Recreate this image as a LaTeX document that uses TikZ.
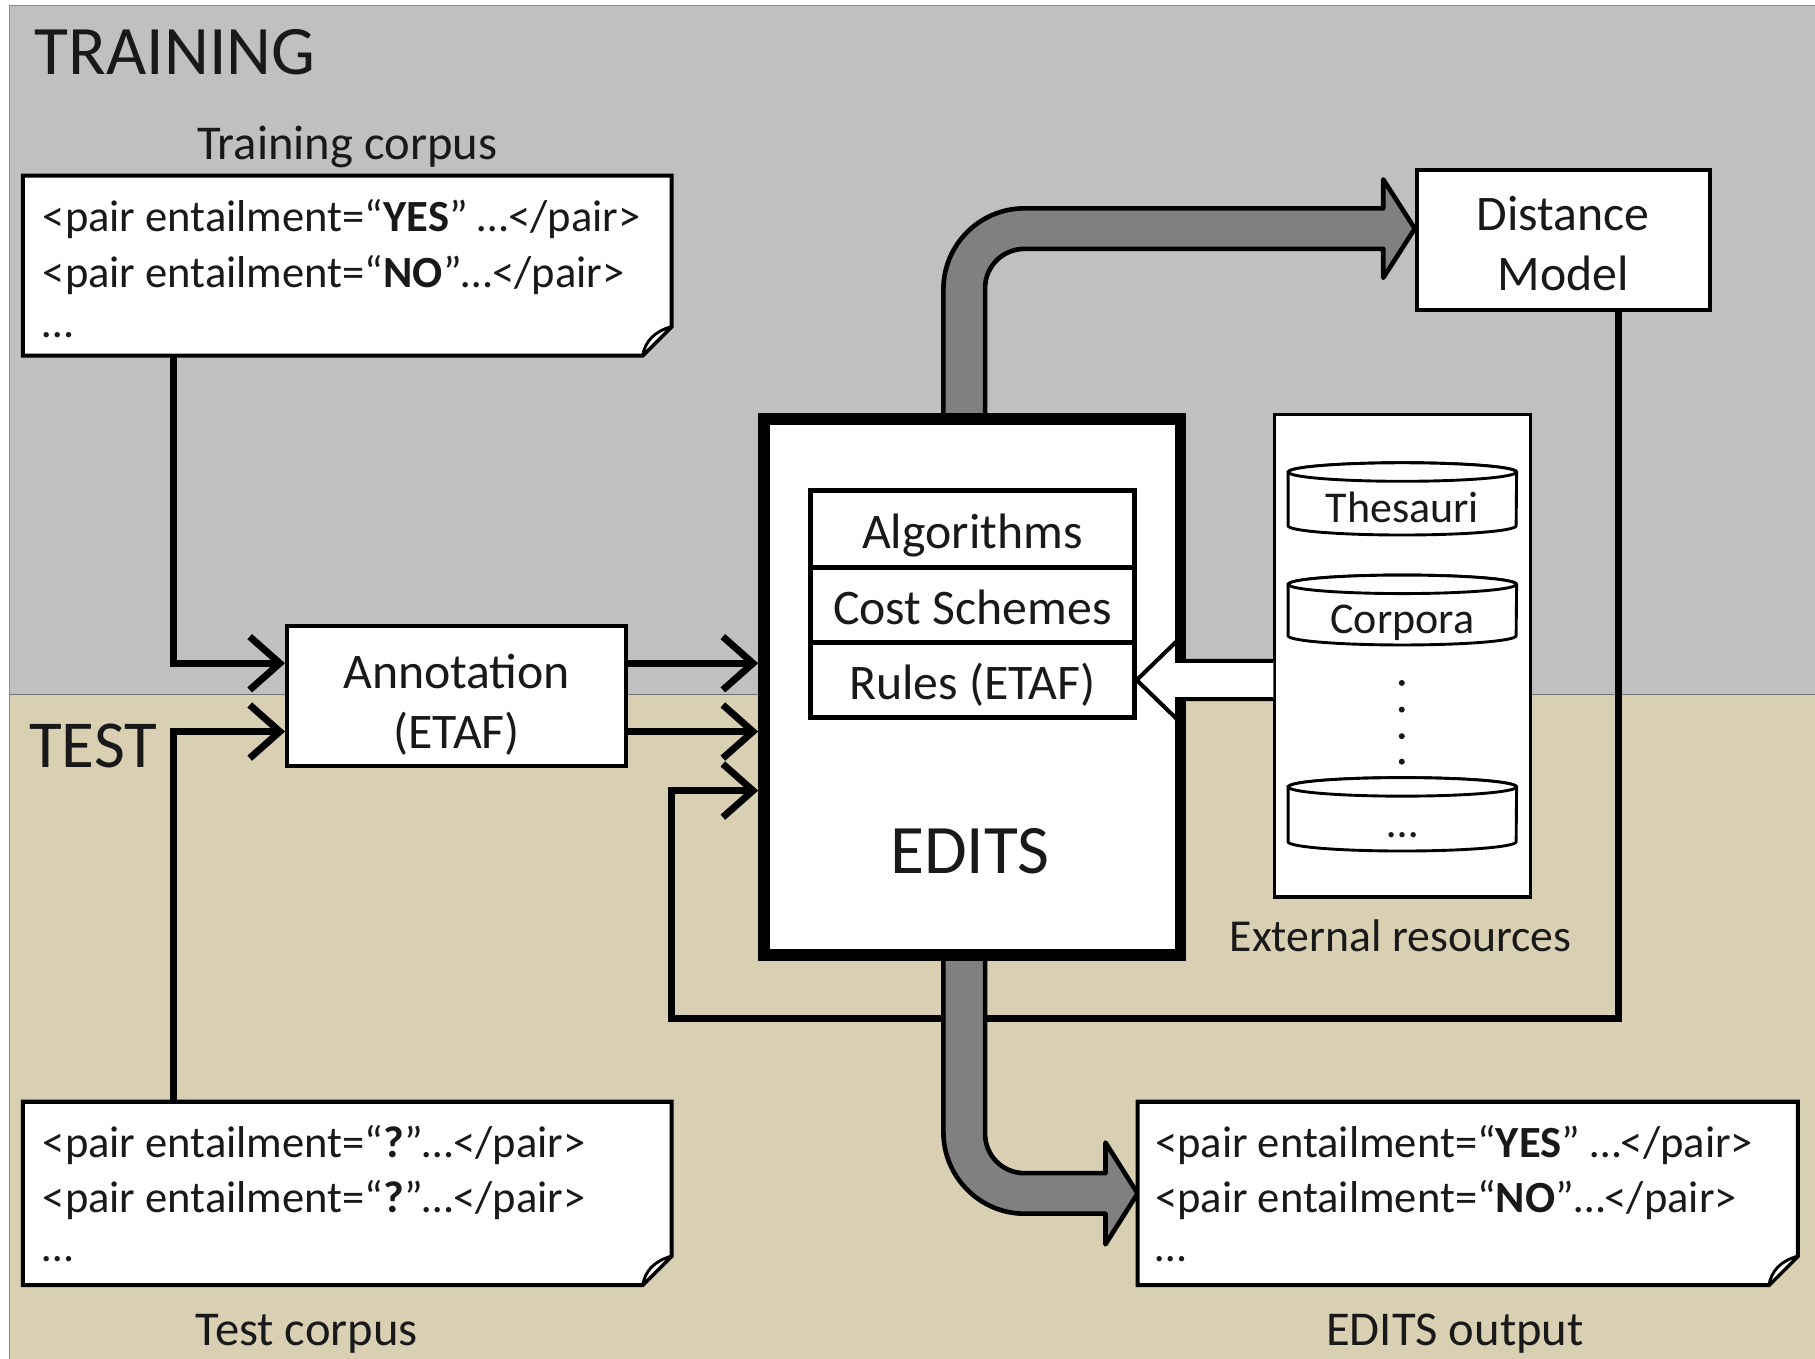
\documentclass[tikz,border=0pt]{standalone}
\usepackage{fontspec}
\setmainfont{Carlito}
\usetikzlibrary{calc,arrows.meta}
\pgfdeclarelayer{back}
\pgfdeclarelayer{mid}
\pgfsetlayers{back,mid,main}
\definecolor{panelgray}{RGB}{192,192,192}
\definecolor{paneltan}{RGB}{217,208,180}
\definecolor{arrowgray}{RGB}{128,128,128}
\definecolor{ink}{RGB}{25,25,25}
\begin{document}
\begin{tikzpicture}[x=1pt,y=-1pt,
  box/.style={draw=black,line width=3.5pt,fill=white,inner sep=0pt,align=center,
    font=\fontsize{43}{52}\selectfont,text=ink},
  onebox/.style={box,line width=4pt,minimum width=280,text height=34pt,text depth=0pt},
  docbox/.style={draw=none,inner sep=0pt},
  docline/.style={draw=black,line width=3.5pt,fill=white,line join=miter},
  doctext/.style={anchor=base west,inner sep=0pt,font=\fontsize{38.5}{46}\selectfont,text=ink},
  lbl/.style={anchor=base,inner sep=0pt,font=\fontsize{42}{50}\selectfont,text=ink},
  biglbl/.style={anchor=base west,inner sep=0pt,font=\fontsize{60}{72}\selectfont,text=ink},
  conn/.style={line width=6pt,draw=black,-{Straight Barb[length=26pt,width=46pt]}},
  fatarrow/.style={fill=arrowgray,draw=black,line width=4pt,line join=round},
  whitearrow/.style={fill=white,draw=black,line width=3.5pt,line join=miter},
  cyl/.style={draw=black,line width=2.5pt,fill=white},
  cyltext/.style={draw=none,inner sep=0pt,font=\fontsize{38}{46}\selectfont,text=ink,
    text height=40pt,text depth=0pt},
]
\useasboundingbox (0,0) rectangle (1568,1174);
% background panels
\begin{pgfonlayer}{back}
\fill[white] (0,0) rectangle (1568,1174);
\fill[panelgray] (8,5) rectangle (1568,600);
\fill[paneltan] (8,600) rectangle (1568,1174);
\draw[black!55,line width=1.2pt] (8,600) -- (1568,600);
\draw[black!45,line width=1pt] (8,1174) -- (8,5) -- (1568,5);
\end{pgfonlayer}

\node[biglbl] (training) at (30,64) {TRAINING};
\node[biglbl,font=\fontsize{58}{70}\selectfont] (testlbl) at (25,663) {TEST};

% document boxes
\node[docbox,minimum width=560,minimum height=155] (train) at (300,229.5) {};
\node[docbox,minimum width=560,minimum height=158] (test) at (300,1031) {};
\node[docbox,minimum width=570,minimum height=158] (out) at (1268,1031) {};
\foreach \d in {train,test,out}{
  \draw[docline] (\d.north west) -- (\d.north east) -- ($(\d.south east)+(0,-25)$)
    -- ($(\d.south east)+(-25,0)$) -- (\d.south west) -- cycle;
  \draw[line width=2.5pt,fill=white,line join=round] ($(\d.south east)+(0,-25)$)
    .. controls ($(\d.south east)+(-15,-21)$) and ($(\d.south east)+(-23,-12)$) .. ($(\d.south east)+(-25,0)$) -- cycle;
}
\node[doctext] (train1) at ($(train.north west)+(17,48)$) {<pair entailment=“\textbf{YES}” …</pair>};
\node[doctext] (train2) at ($(train.north west)+(17,97)$) {<pair entailment=“\textbf{NO}”…</pair>};
\node[doctext] (train3) at ($(train.north west)+(17,140)$) {…};
\node[doctext] (test1) at ($(test.north west)+(17,48)$) {<pair entailment=“\textbf{?}”…</pair>};
\node[doctext] (test2) at ($(test.north west)+(17,96)$) {<pair entailment=“\textbf{?}”…</pair>};
\node[doctext] (test3) at ($(test.north west)+(17,138)$) {…};
\node[doctext] (out1) at ($(out.north west)+(15,48)$) {<pair entailment=“\textbf{YES}” …</pair>};
\node[doctext] (out2) at ($(out.north west)+(15,96)$) {<pair entailment=“\textbf{NO}”…</pair>};
\node[doctext] (out3) at ($(out.north west)+(15,138)$) {…};

\node[lbl] (traincap) at (300,138) {Training corpus};
\node[lbl] (testcap) at (265,1162) {Test corpus};
\node[lbl] (outcap) at (1257,1162) {EDITS output};

% boxes
\node[box,minimum width=293,minimum height=121] (annot) at (394.5,601.5) {\rule{0pt}{44pt}Annotation\\(ETAF)};
\node[box,minimum width=253,minimum height=121] (dist) at (1350.5,207.5) {\rule{0pt}{36pt}Distance\\Model};
\node[draw=black,line width=10pt,fill=white,minimum width=360,minimum height=463,outer sep=5pt] (edits) at (840,593.5) {};
\node[anchor=base,inner sep=0pt,font=\fontsize{60}{72}\selectfont,text=ink] (editslbl) at (838,755) {EDITS};
\node[onebox,minimum height=66] (alg) at (840,457) {Algorithms};
\node[onebox,minimum height=65] (cost) at (840,522.5) {Cost Schemes};
\node[onebox,minimum height=65] (rules) at (840,587.5) {Rules (ETAF)};

% external resources
\begin{pgfonlayer}{mid}
\node[draw=black,line width=3pt,fill=white,minimum width=221,minimum height=417] (ext) at (1211.5,566.5) {};
\end{pgfonlayer}
\coordinate (w1) at ($(rules.east)+(35,-16.5)$);
\coordinate (w2) at ($(rules.east)+(35,-34)$);
\coordinate (w3) at ($(rules.east)+(35,34)$);
\coordinate (w4) at ($(rules.east)+(35,16.5)$);
\filldraw[whitearrow] ($(w1 -| ext.west)+(0.5,0)$) -- (w1) -- (w2) -- (rules.east) -- (w3) -- (w4) -- ($(w4 -| ext.west)+(0.5,0)$);
\node[lbl,font=\fontsize{39.5}{48}\selectfont] (extcap) at (1210,822) {External resources};

% cylinders
\node[cyltext,minimum width=197,minimum height=62] (thes) at (1211.5,431) {Thesauri};
\node[cyltext,minimum width=197,minimum height=60] (corp) at (1211.5,527) {Corpora};
\node[cyltext,minimum width=197,minimum height=63] (more) at (1211.5,703.5) {…};
\begin{pgfonlayer}{mid}
\foreach \c in {thes,corp,more}{
  \filldraw[cyl] ($(\c.north west)+(0,8)$) -- ($(\c.south west)+(0,-8)$)
    arc[start angle=180,end angle=0,x radius=98.5,y radius=8]
    -- ($(\c.north east)+(0,8)$)
    arc[start angle=0,end angle=-180,x radius=98.5,y radius=8] -- cycle;
  \draw[cyl] ($(\c.north)+(0,8)$) ellipse[x radius=98.5,y radius=8];
}
\foreach \yy in {590,613,636,658}{ \fill[ink] (1211,\yy) circle[radius=2.6]; }
\end{pgfonlayer}

% connectors
\coordinate (ain1) at ($(annot.west)+(0,-28.5)$);
\coordinate (ain2) at ($(annot.west)+(0,30.5)$);
\coordinate (aout1) at ($(annot.east)+(0,-28.5)$);
\coordinate (aout2) at ($(annot.east)+(0,30.5)$);
\coordinate (ein3) at ($(edits.west)+(0,89.5)$);
\coordinate (loopc) at (580,880);
\draw[conn] ($(train.south west)+(130,0)$) |- (ain1);
\draw[conn] ($(test.north west)+(130,0)$) |- (ain2);
\draw[conn] (aout1) -- (aout1 -| edits.west);
\draw[conn] (aout2) -- (aout2 -| edits.west);

\begin{pgfonlayer}{mid}
\draw[conn] ($(dist.south)+(47.5,0)$) |- (loopc) |- (ein3);
% fat arrow to distance model
\filldraw[fatarrow] ($(edits.north)+(-25,8)$) -- (815,250)
  .. controls (815,211.4) and (846.4,180) .. (885,180)
  -- (1195,180) -- (1195,155) -- ($(dist.west)+(0,-10)$) -- (1195,240) -- (1195,215) -- (885,215)
  .. controls (866.2,215) and (851,230.2) .. (851,249)
  -- ($(edits.north)+(11,8)$);
% fat arrow to output
\filldraw[fatarrow] ($(edits.south)+(-25,-8)$) -- (815,978)
  .. controls (815,1016.6) and (846.4,1048.5) .. (885,1048.5)
  -- (955,1048.5) -- (955,1075) -- (out.west) -- (955,987) -- (955,1013.5) -- (885,1013.5)
  .. controls (866.2,1013.5) and (851,998.3) .. (851,979.5)
  -- ($(edits.south)+(11,-8)$);
\end{pgfonlayer}
\end{tikzpicture}
\end{document}
